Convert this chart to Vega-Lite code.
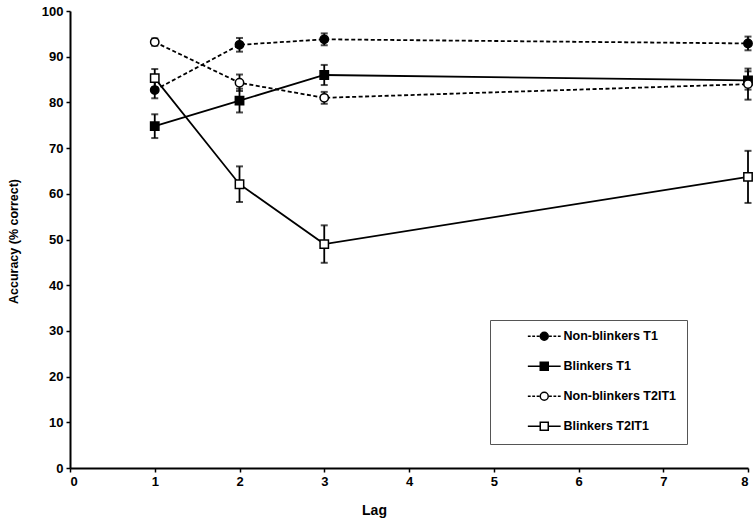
{
  "$schema": "https://vega.github.io/schema/vega-lite/v6.json",
  "width": 678,
  "height": 457,
  "autosize": {"type": "none"},
  "padding": {"left": 70, "top": 11, "right": 6, "bottom": 52},
  "background": "white",
  "config": {
    "view": {"stroke": null},
    "font": "Liberation Sans",
    "axis": {
      "grid": false,
      "domainColor": "black",
      "domainWidth": 2,
      "tickColor": "black",
      "tickWidth": 1.5,
      "tickSize": 4,
      "labelFont": "Liberation Sans",
      "labelFontWeight": "bold",
      "labelFontSize": 13,
      "labelColor": "black",
      "labelPadding": 3,
      "titleFont": "Liberation Sans",
      "titleFontWeight": "bold",
      "titleColor": "black"
    },
    "legend": {
      "title": null,
      "orient": "none",
      "legendX": 420,
      "legendY": 309,
      "padding": 10,
      "strokeColor": "#555555",
      "symbolSize": 64,
      "symbolOpacity": 1,
      "symbolStrokeWidth": 1.5,
      "symbolOffset": 38,
      "labelOffset": 13,
      "labelFont": "Liberation Sans",
      "labelFontWeight": "bold",
      "labelFontSize": 12.5,
      "labelColor": "black",
      "rowPadding": 15
    }
  },
  "data": {
    "values": [
      {"series": "Non-blinkers T1", "lag": 1, "acc": 82.7, "lo": 80.9, "hi": 84.5},
      {"series": "Non-blinkers T1", "lag": 2, "acc": 92.6, "lo": 91.1, "hi": 94.1},
      {"series": "Non-blinkers T1", "lag": 3, "acc": 93.8, "lo": 92.5, "hi": 95.1},
      {"series": "Non-blinkers T1", "lag": 8, "acc": 92.9, "lo": 91.4, "hi": 94.4},
      {"series": "Blinkers T1", "lag": 1, "acc": 74.8, "lo": 72.2, "hi": 77.4},
      {"series": "Blinkers T1", "lag": 2, "acc": 80.4, "lo": 77.8, "hi": 83.0},
      {"series": "Blinkers T1", "lag": 3, "acc": 86.0, "lo": 83.8, "hi": 88.2},
      {"series": "Blinkers T1", "lag": 8, "acc": 84.8, "lo": 82.8, "hi": 86.8},
      {"series": "Non-blinkers T2IT1", "lag": 1, "acc": 93.2, "lo": 92.4, "hi": 94.0},
      {"series": "Non-blinkers T2IT1", "lag": 2, "acc": 84.3, "lo": 82.5, "hi": 86.1},
      {"series": "Non-blinkers T2IT1", "lag": 3, "acc": 81.0, "lo": 79.7, "hi": 82.3},
      {"series": "Non-blinkers T2IT1", "lag": 8, "acc": 84.0, "lo": 80.6, "hi": 87.4},
      {"series": "Blinkers T2IT1", "lag": 1, "acc": 85.3, "lo": 83.3, "hi": 87.3},
      {"series": "Blinkers T2IT1", "lag": 2, "acc": 62.1, "lo": 58.2, "hi": 66.0},
      {"series": "Blinkers T2IT1", "lag": 3, "acc": 49.0, "lo": 44.9, "hi": 53.1},
      {"series": "Blinkers T2IT1", "lag": 8, "acc": 63.7, "lo": 58.0, "hi": 69.4}
    ]
  },
  "encoding": {
    "x": {
      "field": "lag", "type": "quantitative",
      "scale": {"domain": [0, 8], "nice": false, "zero": false},
      "axis": {"title": "Lag", "values": [0,1,2,3,4,5,6,7,8], "format": "d", "titleFontSize": 14, "titleX": 304, "titleY": 46, "titleBaseline": "alphabetic", "titleAlign": "center"}
    }
  },
  "layer": [
    {
      "transform": [{"filter": "indexof(datum.series, 'Non-') === 0"}],
      "mark": {"type": "line", "color": "black", "strokeWidth": 1.8, "strokeDash": [4, 2.5]},
      "encoding": {
        "y": {"field": "acc", "type": "quantitative", "scale": {"domain": [0, 100], "nice": false},
          "axis": {"title": "Accuracy (% correct)", "values": [0,10,20,30,40,50,60,70,80,90,100], "titleFontSize": 12.5, "titleX": -53, "titleY": 230, "titleAngle": -90, "titleBaseline": "alphabetic", "titleAlign": "center"}},
        "detail": {"field": "series", "type": "nominal"}
      }
    },
    {
      "transform": [{"filter": "indexof(datum.series, 'Non-') !== 0"}],
      "mark": {"type": "line", "color": "black", "strokeWidth": 1.8},
      "encoding": {
        "y": {"field": "acc", "type": "quantitative"},
        "detail": {"field": "series", "type": "nominal"}
      }
    },
    {
      "mark": {"type": "rule", "color": "black", "strokeWidth": 1.8},
      "encoding": {
        "y": {"field": "lo", "type": "quantitative"},
        "y2": {"field": "hi"}
      }
    },
    {
      "mark": {"type": "tick", "orient": "horizontal", "color": "black", "size": 7, "thickness": 2},
      "encoding": {"y": {"field": "lo", "type": "quantitative"}}
    },
    {
      "mark": {"type": "tick", "orient": "horizontal", "color": "black", "size": 7, "thickness": 2},
      "encoding": {"y": {"field": "hi", "type": "quantitative"}}
    },
    {
      "transform": [{"filter": "datum.series === 'Non-blinkers T1'"}],
      "mark": {"type": "point", "shape": "circle", "filled": true, "fill": "black", "stroke": "black", "strokeWidth": 1.5, "opacity": 1, "size": 70},
      "encoding": {"y": {"field": "acc", "type": "quantitative"}}
    },
    {
      "transform": [{"filter": "datum.series === 'Blinkers T1'"}],
      "mark": {"type": "point", "shape": "square", "filled": true, "fill": "black", "stroke": "black", "strokeWidth": 1.5, "opacity": 1, "size": 70},
      "encoding": {"y": {"field": "acc", "type": "quantitative"}}
    },
    {
      "transform": [{"filter": "datum.series === 'Non-blinkers T2IT1'"}],
      "mark": {"type": "point", "shape": "circle", "filled": true, "fill": "white", "stroke": "black", "strokeWidth": 1.5, "opacity": 1, "size": 70},
      "encoding": {"y": {"field": "acc", "type": "quantitative"}}
    },
    {
      "transform": [{"filter": "datum.series === 'Blinkers T2IT1'"}],
      "mark": {"type": "point", "shape": "square", "filled": true, "fill": "white", "stroke": "black", "strokeWidth": 1.5, "opacity": 1, "size": 70},
      "encoding": {"y": {"field": "acc", "type": "quantitative"}}
    },
    {
      "transform": [{"filter": "datum.lag < 0"}],
      "mark": {"type": "point", "filled": false, "strokeWidth": 1.5, "opacity": 1},
      "encoding": {
        "y": {"field": "acc", "type": "quantitative"},
        "shape": {
          "field": "series", "type": "nominal",
          "scale": {"domain": ["Non-blinkers T1", "Blinkers T1", "Non-blinkers T2IT1", "Blinkers T2IT1"],
            "range": [
              "M-4.1,0H-3.4M-3,0H-2.3M-1.9,0H-1.2M1.2,0H1.9M2.3,0H3M3.4,0H4.1M-1,0A1,1 0 1,0 1,0A1,1 0 1,0 -1,0Z",
              "M-4.1,0H-1M1,0H4.1M-1,-1H1V1H-1Z",
              "M-4.1,0H-3.4M-3,0H-2.3M-1.9,0H-1.2M1.2,0H1.9M2.3,0H3M3.4,0H4.1M-1,0A1,1 0 1,0 1,0A1,1 0 1,0 -1,0Z",
              "M-4.1,0H-1M1,0H4.1M-1,-1H1V1H-1Z"
            ]},
          "legend": {"labelExpr": "datum.label + '            '"}
        },
        "fill": {
          "field": "series", "type": "nominal",
          "scale": {"domain": ["Non-blinkers T1", "Blinkers T1", "Non-blinkers T2IT1", "Blinkers T2IT1"], "range": ["black", "black", "white", "white"]},
          "legend": {"labelExpr": "datum.label + '            '"}
        },
        "stroke": {
          "field": "series", "type": "nominal",
          "scale": {"domain": ["Non-blinkers T1", "Blinkers T1", "Non-blinkers T2IT1", "Blinkers T2IT1"], "range": ["black", "black", "black", "black"]},
          "legend": {"labelExpr": "datum.label + '            '"}
        }
      }
    }
  ]
}
